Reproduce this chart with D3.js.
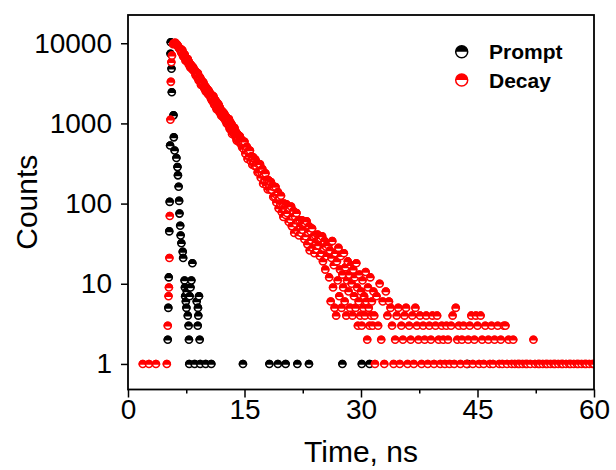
<!DOCTYPE html>
<html>
<head>
<meta charset="utf-8">
<script src="https://cdn.jsdelivr.net/npm/d3@7"></script>
<style>
  body { margin: 0; background: #fff; }
  svg text { font-family: "Liberation Sans", Arial, sans-serif; fill: #000; }
</style>
</head>
<body>
<div id="chart-wrap"></div>
<script>
// Prompt (IRF) - only the non-zero channels show on a log axis
const promptTime = [5.12, 5.19, 5.25, 5.31, 5.37, 5.42, 5.47, 5.50, 5.60, 5.64, 5.86, 5.90, 6.00, 6.23,
  6.37, 6.43, 6.52, 6.58, 6.63, 6.72, 6.78, 6.87, 7.05, 7.10, 7.28, 7.33, 7.36, 7.45, 7.52, 7.58,
  7.70, 7.80, 7.85, 7.88, 7.94, 8.05, 8.16, 8.29, 8.58, 8.85, 8.98, 9.01, 9.05, 9.14, 9.23, 9.30,
  10.0, 10.73, 14.8, 18.2, 19.3, 20.3, 21.8, 23.3, 27.6, 30.1, 31.1, 43.7];
const promptCounts = [2, 5, 12, 45, 105, 530, 7400, 10300, 4800, 2450, 1260, 670, 460, 370,
  285, 225, 162, 108, 75, 53, 40, 32, 25, 21, 11, 9, 7, 6, 5, 8,
  4, 3, 2, 1, 7, 9, 11, 18, 1, 6, 3, 5, 4, 7, 2, 1,
  1, 1, 1, 1, 1, 1, 1, 1, 1, 1, 1, 1];

// Decay - leading edge
const decayRiseTime = [1.9, 2.7, 3.6, 5.0, 5.12, 5.22, 5.27, 5.33, 5.38, 5.46, 5.52, 5.58, 5.66];
const decayRiseCounts = [1, 1, 1, 1, 3, 7, 9, 21, 70, 1110, 3300, 5800, 7000];

// Decay - head, channels 0.05 ns apart from 5.8 ns
const decayHeadStart = 5.8;
const decayHeadStep = 0.05;
const decayHeadCounts = [
  9700, 9800, 9900, 10050, 10000, 9950, 10100, 9900, 9800, 9750, 9600, 9350, 9200, 9150, 9000, 8750, 8600, 8550, 8400, 8150,
  8470, 7700, 7560, 7900, 8140, 7250, 6850, 7350, 7110, 6700, 7220, 6850, 6060, 6300, 6550, 6450, 6030, 5900, 6360, 5700,
  5460, 5850, 5670, 5300, 5000, 5200, 5400, 5000, 5020, 5150, 4660, 4800, 4970, 4700, 4490, 4600, 4610, 4400, 3990, 4250,
  4350, 3850, 3800, 4100, 4210, 3600, 3440, 3850, 3620, 3400, 3700, 3250, 3010, 3450, 3360, 3000, 3060, 3200, 3260, 2850,
  2750, 3000, 2880, 2650, 2510, 2800, 2770, 2450, 2550, 2650, 2340, 2300, 2550, 2450, 2280, 2180, 2360, 2300, 2010, 2050,
  2250, 1900, 1910, 2150, 2180, 1780, 1710, 2000, 1860, 1650, 1920, 1850, 1500, 1560, 1730, 1780, 1540, 1450, 1690, 1600,
  1370, 1560, 1480, 1320, 1250, 1430, 1420, 1230, 1300, 1380, 1180, 1160, 1320, 1270, 1150, 1080, 1220, 1190, 1000, 1150,
  1160, 980, 970, 1120, 1130, 900, 850, 1040, 940, 830, 990, 960, 740, 790, 880, 900, 780, 740, 880, 830,
  690, 800, 760, 660, 610, 740, 730, 620, 660, 700, 590, 580, 690, 640, 580, 550, 630, 600, 500, 520
];

// Decay - body, channels 0.1 ns apart from 14.8 ns
const decayBodyStart = 14.8;
const decayBodyStep = 0.1;
const decayBodyCounts = [
  600, 480, 590, 420, 480, 510, 360, 450, 390, 460,
  340, 390, 305, 380, 335, 295, 355, 295, 325, 245,
  310, 245, 310, 210, 245, 270, 177, 233, 200, 238,
  170, 198, 150, 195, 171, 149, 186, 149, 168, 121,
  160, 123, 161, 103, 126, 139, 87, 120, 100, 125,
  78, 99, 68, 100, 86, 72, 98, 76, 91, 59,
  88, 63, 92, 52, 69, 81, 43, 69, 56, 76,
  46, 61, 40, 62, 52, 43, 62, 47, 58, 36,
  57, 39, 60, 31, 44, 52, 26, 45, 35, 49,
  28, 39, 24, 40, 33, 27, 41, 30, 38, 22,
  37, 24, 39, 19, 28, 34, 15, 29, 22, 32,
  30, 12, 26, 6, 21, 34, 9, 17, 5, 24,
  4, 19, 11, 28, 7, 15, 22, 5, 13, 9,
  24, 6, 16, 4, 11, 19, 8, 13, 5, 17,
  10, 4, 15, 7, 12, 5, 18, 9, 3, 6,
  13, 4, 8, 3, 11, 5, 7, 4, 14, 6,
  2, 9, 5, 3, 12, 4, 6, 3, 8, 4
];

// Decay - tail, channels 0.2 ns apart from 31.8 ns
const decayTailStart = 31.8;
const decayTailStep = 0.2;
const decayTailCounts = [
  1, 7, 3, 10, 2, 6, 1, 8, 4, 6,
  5, 3, 1, 2, 4, 5, 1, 3, 2, 4,
  5, 1, 3, 2, 4, 1, 5, 3, 2, 4,
  1, 3, 2, 4, 1, 3, 2, 4, 1, 3,
  4, 2, 1, 3, 2, 1, 3, 2, 1, 3,
  4, 1, 5, 2, 3, 1, 2, 3, 0, 1,
  2, 3, 4, 1, 2, 4, 3, 1, 4, 2,
  1, 3, 0, 2, 1, 3, 1, 2, 0, 3,
  1, 2, 1, 3, 3, 1, 2, 0, 1, 2,
  1, 0, 1, 1, 0, 1, 0, 1, 1, 0,
  1, 0, 2, 1, 0, 1, 1, 0, 1, 0,
  1, 1, 0, 1, 0, 1, 1, 0, 1, 0,
  1, 1, 0, 1, 0, 1, 1, 0, 1, 0,
  1, 1, 0, 1, 0, 1, 1, 0, 1, 0,
  1, 1
];

const xTicks = [0, 15, 30, 45, 60];
const xMinorTicks = [7.5, 22.5, 37.5, 52.5];
const yTicks = [1, 10, 100, 1000, 10000];
const seriesNames = ['Prompt', 'Decay'];
const colors = ['#000000', '#ff0000'];

const width = 616;
const height = 470;
const plot = { left: 128, right: 594, top: 15, bottom: 389.5 };
const r = 3.5;

const x = d3.scaleLinear().domain([0, 60]).range([plot.left, plot.right]);
const y = d3.scaleLog().domain([0.48, 22500]).range([plot.bottom, plot.top]);

const channels = (counts, start, step) =>
  counts.map((c, i) => ({ t: +(start + i * step).toFixed(2), c }));

const promptData = promptTime.map((t, i) => ({ t, c: promptCounts[i] }));
const decayData = decayRiseTime.map((t, i) => ({ t, c: decayRiseCounts[i] }))
  .concat(channels(decayHeadCounts, decayHeadStart, decayHeadStep))
  .concat(channels(decayBodyCounts, decayBodyStart, decayBodyStep))
  .concat(channels(decayTailCounts, decayTailStart, decayTailStep));

const svg = d3.select('#chart-wrap').append('svg')
  .attr('width', width)
  .attr('height', height);

svg.append('defs').append('clipPath')
  .attr('id', 'plot-clip')
  .append('rect')
  .attr('x', plot.left)
  .attr('y', plot.top)
  .attr('width', plot.right - plot.left)
  .attr('height', plot.bottom - plot.top);

// half-filled circle marker: top half solid, bottom half open
const drawMarkers = (g, data, color, rad, sw) => {
  const top = d3.arc()({ innerRadius: 0, outerRadius: rad, startAngle: -Math.PI / 2, endAngle: Math.PI / 2 });
  const m = g.selectAll('g.m')
    .data(data.filter(d => d.c > 0))
    .enter()
    .append('g')
    .attr('class', 'm')
    .attr('transform', d => `translate(${x(d.t)},${y(d.c)})`);
  m.append('circle')
    .attr('r', rad)
    .attr('fill', '#fff')
    .attr('stroke', color)
    .attr('stroke-width', sw);
  m.append('path')
    .attr('d', top)
    .attr('fill', color)
    .attr('stroke', color)
    .attr('stroke-width', sw);
};

const dots = svg.append('g').attr('clip-path', 'url(#plot-clip)');
drawMarkers(dots.append('g'), promptData, colors[0], r, 1.6);
drawMarkers(dots.append('g'), decayData, colors[1], r, 1.6);

// Axes
const xAxis = svg.append('g')
  .attr('transform', `translate(0,${plot.bottom})`)
  .call(d3.axisBottom(x).tickValues(xTicks).tickSize(8).tickPadding(2).tickFormat(d3.format('d')));
const xMinor = svg.append('g')
  .attr('transform', `translate(0,${plot.bottom})`)
  .call(d3.axisBottom(x).tickValues(xMinorTicks).tickSize(4).tickFormat(''));
const yAxis = svg.append('g')
  .attr('transform', `translate(${plot.left},0)`)
  .call(d3.axisLeft(y).tickValues(yTicks).tickSize(7).tickPadding(9).tickFormat(d3.format('d')));

[xAxis, xMinor, yAxis].forEach(a => {
  a.select('.domain').remove();
  a.selectAll('line').attr('stroke', '#000').attr('stroke-width', 1.5);
  a.selectAll('text').style('font-size', '28px').attr('fill', '#000');
});

// Frame
svg.append('rect')
  .attr('x', plot.left)
  .attr('y', plot.top)
  .attr('width', plot.right - plot.left)
  .attr('height', plot.bottom - plot.top)
  .attr('fill', 'none')
  .attr('stroke', '#000')
  .attr('stroke-width', 1.8);

// Axis titles
svg.append('text')
  .attr('x', (plot.left + plot.right) / 2)
  .attr('y', 462)
  .attr('text-anchor', 'middle')
  .style('font-size', '30px')
  .text('Time, ns');

svg.append('text')
  .attr('transform', `translate(37,${(plot.top + plot.bottom) / 2}) rotate(-90)`)
  .attr('text-anchor', 'middle')
  .style('font-size', '30px')
  .text('Counts');

// Legend
const legend = svg.append('g');
seriesNames.forEach((name, i) => {
  const ly = 51.7 + i * 28.3;
  const lg = legend.append('g').attr('transform', `translate(461.7,${ly})`);
  lg.append('circle').attr('r', 6).attr('fill', '#fff').attr('stroke', colors[i]).attr('stroke-width', 1.5);
  lg.append('path')
    .attr('d', d3.arc()({ innerRadius: 0, outerRadius: 6, startAngle: -Math.PI / 2, endAngle: Math.PI / 2 }))
    .attr('fill', colors[i]);
  legend.append('text')
    .attr('x', 489)
    .attr('y', ly + 7.5)
    .style('font-size', '21px')
    .style('font-weight', 'bold')
    .text(name);
});
</script>
</body>
</html>
